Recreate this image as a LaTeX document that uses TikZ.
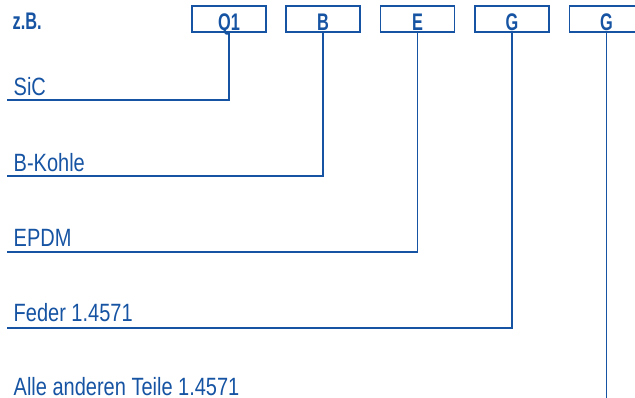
\documentclass[tikz,border=0pt]{standalone}
\usepackage{fontspec}
\setmainfont[FakeStretch=0.8, BoldFeatures={FakeStretch=0.68}]{Liberation Sans}
\usepackage{xcolor}
\usetikzlibrary{positioning}
\definecolor{codeblue}{RGB}{22,84,163}

\begin{document}
\begin{tikzpicture}[x=1pt, y=-1pt, line width=1.4pt, color=codeblue,
  codebox/.style={draw, line width=1.3pt, minimum width=74pt, minimum height=26pt, inner sep=0pt,
    text height=23pt, text depth=0pt, font=\bfseries\fontsize{24}{24}\selectfont},
  partlabel/.style={anchor=base west, inner sep=0pt, font=\fontsize{25}{25}\selectfont}]
  \useasboundingbox (0,0) rectangle (635,398);
  \clip (0,0) rectangle (635,398);
  \node[partlabel, font=\bfseries\fontsize{24}{24}\selectfont] (zb) at (12,30) {z.B.};
  \node[codebox] (q1) at (229,19) {Q1};
  \node[codebox] (b) at (323,19) {B};
  \node[codebox] (e) at (417.5,19) {E};
  \node[codebox] (g1) at (512,19) {G};
  \node[codebox] (g2) at (606.5,19) {G};
  % left ends of the leader lines
  \coordinate (sic-end) at (7,100);
  \coordinate (kohle-end) at (7,176);
  \coordinate (epdm-end) at (7,252);
  \coordinate (feder-end) at (7,328);
  \coordinate (alle-end) at (7,403);
  \node[partlabel] (sic) at (13,95.5) {SiC};
  \node[partlabel] (kohle) at (13,171.5) {B-Kohle};
  \node[partlabel] (epdm) at (13,247) {EPDM};
  \node[partlabel] (feder) at (13,322) {Feder 1.4571};
  \node[partlabel] (alle) at (13,395) {Alle anderen Teile 1.4571};
  \draw (q1.south) |- (sic-end);
  \draw (b.south) |- (kohle-end);
  \draw (e.south) |- (epdm-end);
  \draw (g1.south) |- (feder-end);
  \draw (g2.south) |- (alle-end);
\end{tikzpicture}
\end{document}
